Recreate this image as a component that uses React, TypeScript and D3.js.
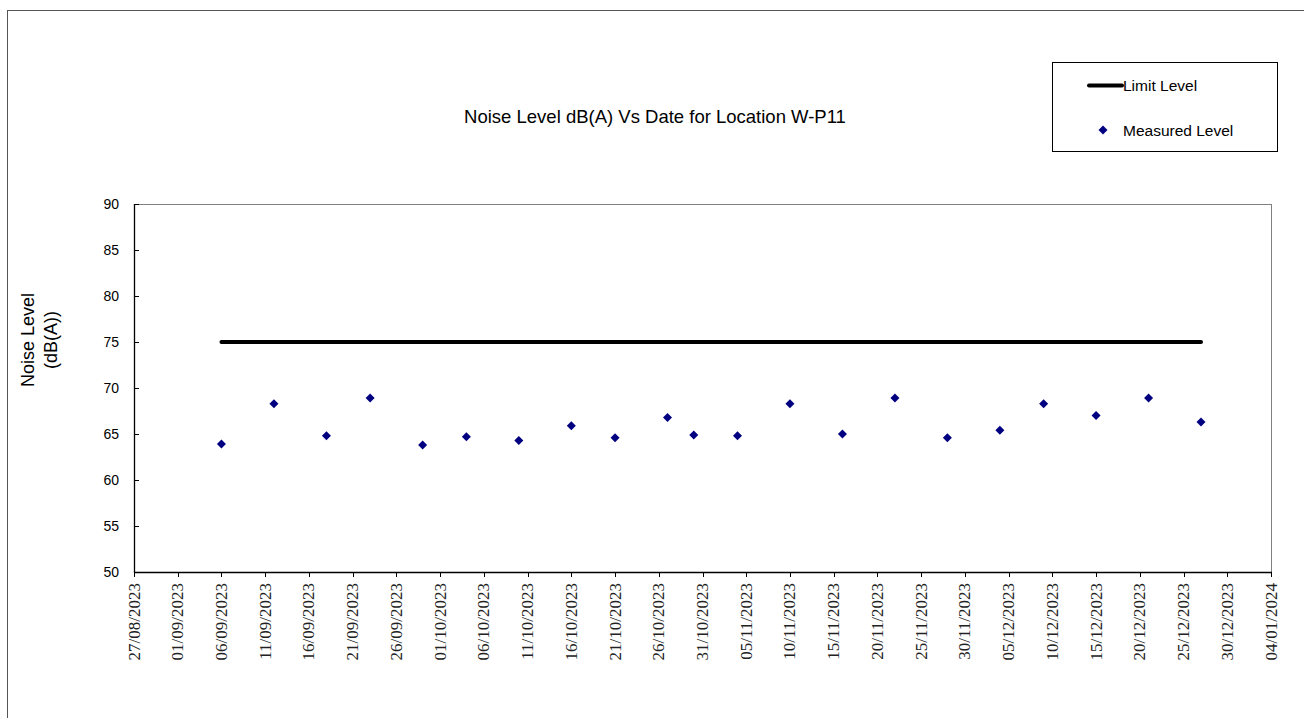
import React from "react";
import * as d3 from "d3";

const measureDates = [
  "2023-09-06", "2023-09-12", "2023-09-18", "2023-09-23", "2023-09-29",
  "2023-10-04", "2023-10-10", "2023-10-16", "2023-10-21", "2023-10-27",
  "2023-10-30", "2023-11-04", "2023-11-10", "2023-11-16", "2023-11-22",
  "2023-11-28", "2023-12-04", "2023-12-09", "2023-12-15", "2023-12-21",
  "2023-12-27",
];
const measuredLevels = [
  63.9, 68.3, 64.8, 68.9, 63.8, 64.7, 64.3, 65.9, 64.6, 66.8, 64.9, 64.8,
  68.3, 65.0, 68.9, 64.6, 65.4, 68.3, 67.0, 68.9, 66.3,
];
const limitDates = ["2023-09-06", "2023-12-27"];
const limitLevels = [75, 75];
const xDomain = ["2023-08-27", "2024-01-04"];
const yTicks = [50, 55, 60, 65, 70, 75, 80, 85, 90];
const tickStepDays = 5;

const W = 1304;
const H = 718;
const plot = { left: 134, right: 1271, top: 204, bottom: 572 };

export default function App() {
  const parse = d3.utcParse("%Y-%m-%d");
  const fmt = d3.utcFormat("%d/%m/%Y");
  const x = d3
    .scaleUtc()
    .domain(xDomain.map((d) => parse(d) as Date))
    .range([plot.left, plot.right]);
  const y = d3.scaleLinear().domain([50, 90]).range([plot.bottom, plot.top]);

  const xStart = parse(xDomain[0]) as Date;
  const xEnd = parse(xDomain[1]) as Date;
  const xTicks = d3.utcDay.range(xStart, d3.utcDay.offset(xEnd, 1), tickStepDays);

  const limitData = limitDates.map((d, i) => ({ x: parse(d) as Date, y: limitLevels[i] }));
  const limitPath = d3
    .line<{ x: Date; y: number }>()
    .x((d) => x(d.x))
    .y((d) => y(d.y))(limitData) as string;

  const diamond = (cx: number, cy: number, r: number) =>
    `M${cx},${cy - r}L${cx + r},${cy}L${cx},${cy + r}L${cx - r},${cy}Z`;

  const font = "'Liberation Sans', Arial, sans-serif";

  return (
    <svg
      width={W}
      height={H}
      style={{ position: "absolute", left: 0, top: 0, background: "#fff" }}
    >
      <rect x={0} y={0} width={W} height={H} fill="#fff" />
      {/* outer chart frame */}
      <rect x={7.5} y={10.5} width={W + 20} height={H + 20} fill="none" stroke="#555" strokeWidth={1} />

      {/* title */}
      <text
        x={655}
        y={123}
        textAnchor="middle"
        fontFamily={font}
        fontSize={18.5}
        fill="#000"
      >
        Noise Level dB(A) Vs Date for Location W-P11
      </text>

      {/* legend */}
      <rect x={1052.5} y={62.5} width={225} height={89} fill="#fff" stroke="#000" strokeWidth={1} />
      <line x1={1089} x2={1122} y1={85.5} y2={85.5} stroke="#000" strokeWidth={4} strokeLinecap="round" />
      <text x={1123} y={91} fontFamily={font} fontSize={15.5} fill="#000">
        Limit Level
      </text>
      <path d={diamond(1103, 130, 4.5)} fill="#000080" />
      <text x={1123} y={135.5} fontFamily={font} fontSize={15.5} fill="#000">
        Measured Level
      </text>

      {/* plot frame: top/right grey */}
      <line x1={plot.left} x2={plot.right} y1={plot.top + 0.5} y2={plot.top + 0.5} stroke="#808080" strokeWidth={1} />
      <line x1={plot.right + 0.5} x2={plot.right + 0.5} y1={plot.top} y2={plot.bottom} stroke="#808080" strokeWidth={1} />

      {/* y axis */}
      <line x1={plot.left + 0.5} x2={plot.left + 0.5} y1={plot.top} y2={plot.bottom + 1} stroke="#000" strokeWidth={1.3} />
      {yTicks.map((t) => (
        <g key={t}>
          <line
            x1={plot.left}
            x2={plot.left + 5}
            y1={Math.round(y(t)) + 0.5}
            y2={Math.round(y(t)) + 0.5}
            stroke="#000"
            strokeWidth={1}
          />
          <text
            x={119}
            y={y(t)}
            dy="0.36em"
            textAnchor="end"
            fontFamily={font}
            fontSize={14}
            fill="#000"
          >
            {t}
          </text>
        </g>
      ))}

      {/* x axis */}
      <line x1={plot.left} x2={plot.right + 1} y1={plot.bottom + 0.5} y2={plot.bottom + 0.5} stroke="#000" strokeWidth={1.3} />
      {xTicks.map((t) => {
        const px = Math.round(x(t)) + 0.5;
        return (
          <g key={t.toISOString()}>
            <line x1={px} x2={px} y1={plot.bottom} y2={plot.bottom + 5} stroke="#000" strokeWidth={1} />
            <text
              transform={`translate(${x(t) + 5.5},${plot.bottom + 11}) rotate(-90)`}
              textAnchor="end"
              fontFamily="'Liberation Serif', 'Times New Roman', serif"
              fontSize={17}
              fill="#222"
            >
              {fmt(t)}
            </text>
          </g>
        );
      })}

      {/* y axis title */}
      <text
        transform={`translate(34,340) rotate(-90)`}
        textAnchor="middle"
        fontFamily={font}
        fontSize={18}
        fill="#000"
      >
        Noise Level
      </text>
      <text
        transform={`translate(57,340) rotate(-90)`}
        textAnchor="middle"
        fontFamily={font}
        fontSize={18}
        fill="#000"
      >
        (dB(A))
      </text>

      {/* limit line */}
      <path d={limitPath} fill="none" stroke="#000" strokeWidth={4} strokeLinecap="round" />

      {/* measured points */}
      {measureDates.map((d, i) => (
        <path
          key={d}
          d={diamond(x(parse(d) as Date), y(measuredLevels[i]), 4.5)}
          fill="#000080"
        />
      ))}
    </svg>
  );
}
